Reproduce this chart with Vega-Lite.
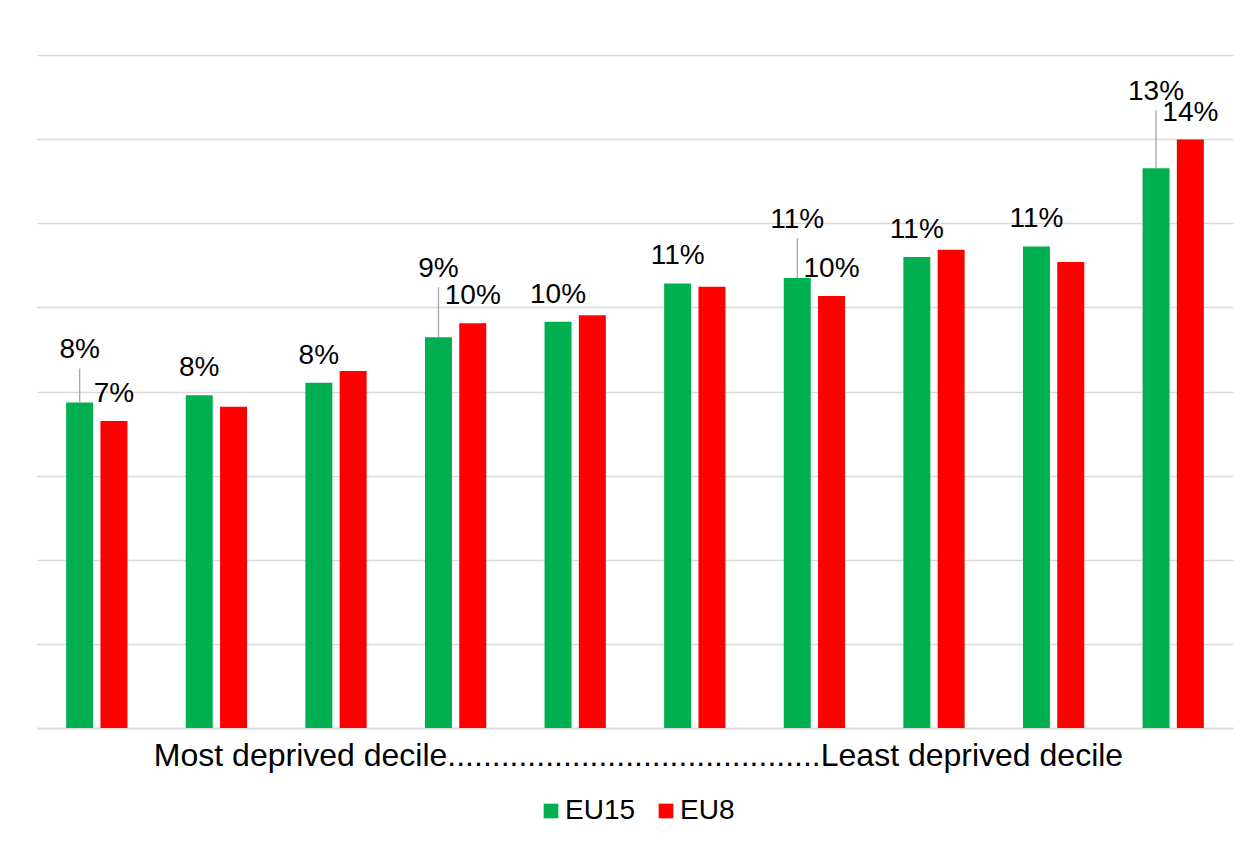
{
  "$schema": "https://vega.github.io/schema/vega-lite/v6.json",
  "autosize": "none",
  "width": 1196,
  "height": 673,
  "padding": {"left": 37, "top": 55, "right": 25, "bottom": 118},
  "background": "#ffffff",
  "config": {
    "view": {"stroke": null},
    "font": "Liberation Sans",
    "text": {"font": "Liberation Sans"}
  },
  "data": {
    "values": [
      {"decile": 1, "series": "EU15", "share": 0.0774},
      {"decile": 1, "series": "EU8", "share": 0.0730},
      {"decile": 2, "series": "EU15", "share": 0.0791},
      {"decile": 2, "series": "EU8", "share": 0.0764},
      {"decile": 3, "series": "EU15", "share": 0.0821},
      {"decile": 3, "series": "EU8", "share": 0.0849},
      {"decile": 4, "series": "EU15", "share": 0.0929},
      {"decile": 4, "series": "EU8", "share": 0.0962},
      {"decile": 5, "series": "EU15", "share": 0.0966},
      {"decile": 5, "series": "EU8", "share": 0.0981},
      {"decile": 6, "series": "EU15", "share": 0.1057},
      {"decile": 6, "series": "EU8", "share": 0.1049},
      {"decile": 7, "series": "EU15", "share": 0.1070},
      {"decile": 7, "series": "EU8", "share": 0.1027},
      {"decile": 8, "series": "EU15", "share": 0.1120},
      {"decile": 8, "series": "EU8", "share": 0.1137},
      {"decile": 9, "series": "EU15", "share": 0.1145},
      {"decile": 9, "series": "EU8", "share": 0.1108},
      {"decile": 10, "series": "EU15", "share": 0.1331},
      {"decile": 10, "series": "EU8", "share": 0.1399}
    ]
  },
  "encoding": {
    "x": {
      "field": "decile",
      "type": "ordinal",
      "sort": "ascending",
      "scale": {"paddingInner": 0, "paddingOuter": 0},
      "axis": {
        "labels": false,
        "ticks": false,
        "domain": true,
        "domainColor": "#d9d9d9",
        "domainWidth": 1.5,
        "grid": false,
        "title": "Most deprived decile..........................................Least deprived decile",
        "titleFont": "Liberation Sans",
        "titleFontSize": 32,
        "titleFontWeight": "normal",
        "titleColor": "#000000",
        "titleBaseline": "alphabetic",
        "titlePadding": 37,
        "titleX": 601
      }
    },
    "xOffset": {
      "field": "series",
      "type": "nominal",
      "scale": {"domain": ["EU15", "EU8"], "paddingInner": 0.213, "paddingOuter": 0.85}
    },
    "y": {
      "field": "share",
      "type": "quantitative",
      "scale": {"domain": [0, 0.16], "nice": false, "zero": true},
      "axis": {
        "values": [0, 0.02, 0.04, 0.06, 0.08, 0.1, 0.12, 0.14, 0.16],
        "labels": false,
        "ticks": false,
        "domain": false,
        "grid": true,
        "gridColor": "#d9d9d9",
        "gridWidth": 1.5,
        "title": null
      }
    }
  },
  "layer": [
    {
      "mark": {"type": "bar"},
      "encoding": {
        "color": {
          "field": "series",
          "type": "nominal",
          "scale": {"domain": ["EU15", "EU8"], "range": ["#00B050", "#FF0000"]},
          "legend": {
            "title": null,
            "orient": "none",
            "legendX": 500,
            "legendY": 742,
            "padding": 0,
            "direction": "horizontal",
            "symbolType": "square",
            "symbolSize": 216,
            "symbolStrokeWidth": 0,
            "labelFont": "Liberation Sans",
            "labelFontSize": 28,
            "labelColor": "#000000",
            "labelOffset": 0,
            "columnPadding": 16
          }
        }
      }
    },
    {
      "transform": [
        {"filter": "(datum.series == 'EU15' && indexof([1,4,7,10], datum.decile) < 0) || (datum.series == 'EU8' && indexof([1,4,7,10], datum.decile) >= 0)"}
      ],
      "mark": {"type": "text", "baseline": "alphabetic", "align": "center", "dy": -19, "fontSize": 28, "color": "#000000", "font": "Liberation Sans"},
      "encoding": {"text": {"field": "share", "type": "quantitative", "format": ".0%"}}
    },
    {
      "transform": [{"filter": "datum.series == 'EU15' && datum.decile == 1"}],
      "mark": {"type": "text", "baseline": "alphabetic", "align": "center", "dy": -44, "fontSize": 28, "color": "#000000", "font": "Liberation Sans"},
      "encoding": {"text": {"field": "share", "type": "quantitative", "format": ".0%"}}
    },
    {
      "transform": [{"filter": "datum.series == 'EU15' && datum.decile == 1"}],
      "mark": {"type": "rule", "color": "#a6a6a6", "strokeWidth": 1.3, "y2Offset": -34},
      "encoding": {"y2": {"field": "share"}}
    },
    {
      "transform": [{"filter": "datum.series == 'EU15' && datum.decile == 4"}],
      "mark": {"type": "text", "baseline": "alphabetic", "align": "center", "dy": -60, "fontSize": 28, "color": "#000000", "font": "Liberation Sans"},
      "encoding": {"text": {"field": "share", "type": "quantitative", "format": ".0%"}}
    },
    {
      "transform": [{"filter": "datum.series == 'EU15' && datum.decile == 4"}],
      "mark": {"type": "rule", "color": "#a6a6a6", "strokeWidth": 1.3, "y2Offset": -50},
      "encoding": {"y2": {"field": "share"}}
    },
    {
      "transform": [{"filter": "datum.series == 'EU15' && datum.decile == 7"}],
      "mark": {"type": "text", "baseline": "alphabetic", "align": "center", "dy": -50, "fontSize": 28, "color": "#000000", "font": "Liberation Sans"},
      "encoding": {"text": {"field": "share", "type": "quantitative", "format": ".0%"}}
    },
    {
      "transform": [{"filter": "datum.series == 'EU15' && datum.decile == 7"}],
      "mark": {"type": "rule", "color": "#a6a6a6", "strokeWidth": 1.3, "y2Offset": -40},
      "encoding": {"y2": {"field": "share"}}
    },
    {
      "transform": [{"filter": "datum.series == 'EU15' && datum.decile == 10"}],
      "mark": {"type": "text", "baseline": "alphabetic", "align": "center", "dy": -68, "fontSize": 28, "color": "#000000", "font": "Liberation Sans"},
      "encoding": {"text": {"field": "share", "type": "quantitative", "format": ".0%"}}
    },
    {
      "transform": [{"filter": "datum.series == 'EU15' && datum.decile == 10"}],
      "mark": {"type": "rule", "color": "#a6a6a6", "strokeWidth": 1.3, "y2Offset": -58},
      "encoding": {"y2": {"field": "share"}}
    }
  ]
}
